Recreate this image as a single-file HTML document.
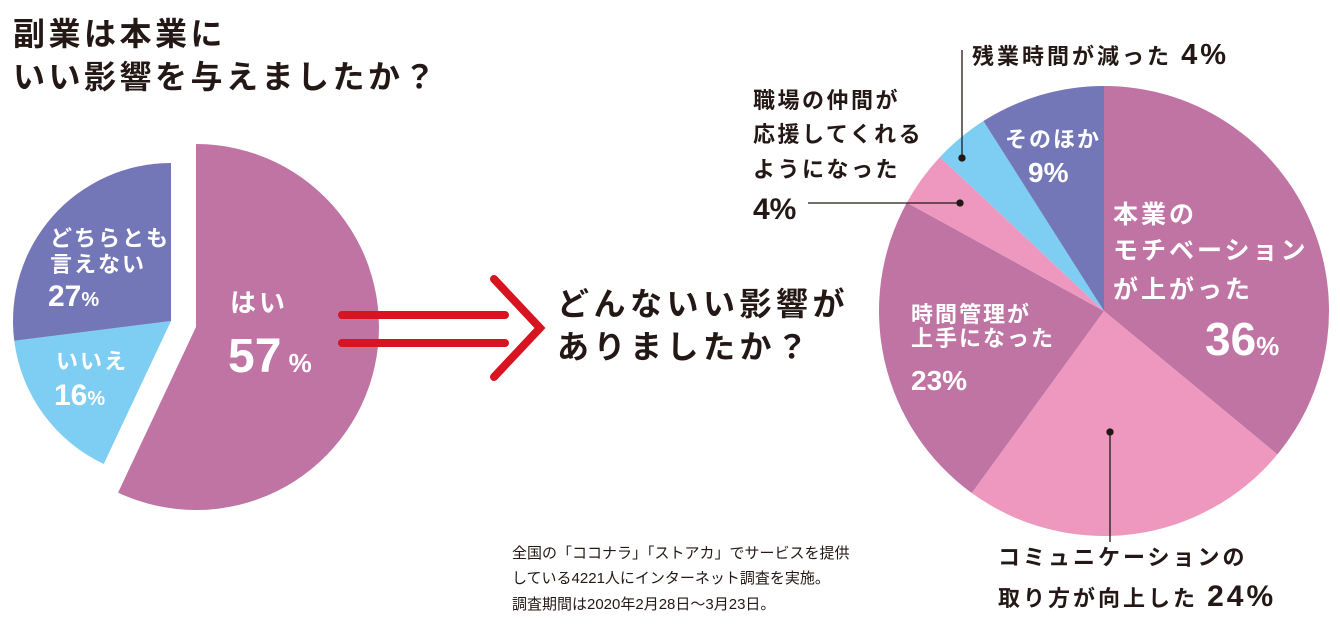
<!DOCTYPE html>
<html><head><meta charset="utf-8">
<style>
html,body{margin:0;padding:0;background:#fff;}
body{width:1340px;height:630px;overflow:hidden;position:relative;font-family:"Liberation Sans","Noto Sans CJK JP",sans-serif;}
svg text{font-family:"Liberation Sans","Noto Sans CJK JP",sans-serif;font-weight:bold;}
</style></head><body>
<svg id="chart" width="1340" height="630" viewBox="0 0 1340 630" xmlns="http://www.w3.org/2000/svg">
<g id="left"></g>
<g id="right"></g>
<g fill="#231815" font-size="32" letter-spacing="3.5">
<text x="13" y="45">副業は本業に</text>
<text x="13" y="88">いい影響を与えましたか？</text>
</g>
<g stroke="#d7141f" stroke-width="8" stroke-linecap="round" fill="none">
<line x1="342" y1="315" x2="505" y2="315"/>
<line x1="342" y1="343" x2="505" y2="343"/>
<polyline points="494,279 540,328 494,377" stroke-linejoin="miter"/>
</g>
<g fill="#231815" font-size="32" letter-spacing="4.5">
<text x="557" y="315">どんないい影響が</text>
<text x="557" y="358">ありましたか？</text>
</g>
<g fill="#fff">
<text x="50" y="246" font-size="22" letter-spacing="2">どちらとも</text>
<text x="50" y="272" font-size="22" letter-spacing="2">言えない</text>
<text x="48" y="306" font-size="30">27<tspan font-size="20">%</tspan></text>
<text x="56" y="369" font-size="22" letter-spacing="2">いいえ</text>
<text x="54" y="405" font-size="30">16<tspan font-size="20">%</tspan></text>
<text x="230" y="312" font-size="26" letter-spacing="3">はい</text>
<text x="228" y="372" font-size="48">57<tspan font-size="26"> %</tspan></text>
</g>
<g>
<g fill="#fff">
<text x="1113" y="223" font-size="25" letter-spacing="3">本業の</text>
<text x="1113" y="259" font-size="25" letter-spacing="3">モチベーション</text>
<text x="1113" y="298" font-size="25" letter-spacing="3">が上がった</text>
<text x="1205" y="355" font-size="46">36<tspan font-size="26">%</tspan></text>
<text x="911" y="322" font-size="22" letter-spacing="2">時間管理が</text>
<text x="911" y="346" font-size="22" letter-spacing="2">上手になった</text>
<text x="911" y="390" font-size="28">23%</text>
<text x="1005" y="147" font-size="22" letter-spacing="2">そのほか</text>
<text x="1028" y="182" font-size="28">9%</text>
</g>
<g fill="#231815">
<text x="972" y="64" font-size="22" letter-spacing="3">残業時間が減った <tspan font-size="29">4%</tspan></text>
<text x="753" y="108" font-size="22" letter-spacing="2.5">職場の仲間が</text>
<text x="753" y="142" font-size="22" letter-spacing="2.5">応援してくれる</text>
<text x="753" y="177" font-size="22" letter-spacing="2.5">ようになった</text>
<text x="753" y="219" font-size="30">4%</text>
<text x="998" y="565" font-size="22" letter-spacing="3">コミュニケーションの</text>
<text x="998" y="606" font-size="22" letter-spacing="3">取り方が向上した <tspan font-size="30">24%</tspan></text>
</g>
<g stroke="#231815" stroke-width="1.3" fill="#231815">
<line x1="962" y1="50" x2="962" y2="158"/><circle cx="962" cy="158" r="3"/>
<line x1="808" y1="203" x2="960" y2="203"/><circle cx="960" cy="203" r="3"/>
<line x1="1110" y1="432" x2="1110" y2="542"/><circle cx="1110" cy="432" r="3"/>
</g>
</g>
<g fill="#231815" font-size="15">
<text x="512" y="558" style="font-weight:normal">全国の「ココナラ」「ストアカ」でサービスを提供</text>
<text x="512" y="583" style="font-weight:normal">している4221人にインターネット調査を実施。</text>
<text x="512" y="609" style="font-weight:normal">調査期間は2020年2月28日〜3月23日。</text>
</g>
</svg>
<script>
const leftCategories = ["はい", "いいえ", "どちらとも言えない"];
const leftValues = [57, 16, 27];
const leftColors = ["#bf74a4", "#7ecdf2", "#7477b7"];
const rightCategories = ["本業のモチベーションが上がった", "コミュニケーションの取り方が向上した", "時間管理が上手になった", "職場の仲間が応援してくれるようになった", "残業時間が減った", "そのほか"];
const rightValues = [36, 24, 23, 4, 4, 9];
const rightColors = ["#bf74a4", "#ee98c0", "#bf74a4", "#ee98c0", "#7ecdf2", "#7477b7"];
const NS = "http://www.w3.org/2000/svg";
function pt(cx, cy, r, frac) {
  const a = frac * 2 * Math.PI;
  return [cx + r * Math.sin(a), cy - r * Math.cos(a)];
}
function slice(g, cx, cy, r, f0, f1, color, name) {
  const p0 = pt(cx, cy, r, f0), p1 = pt(cx, cy, r, f1);
  const large = (f1 - f0) > 0.5 ? 1 : 0;
  const p = document.createElementNS(NS, "path");
  p.setAttribute("d", `M${cx},${cy} L${p0[0]},${p0[1]} A${r},${r} 0 ${large} 1 ${p1[0]},${p1[1]} Z`);
  p.setAttribute("fill", color);
  
  
  g.appendChild(p);
}
(function () {
  const g = document.getElementById("left");
  const total = leftValues.reduce((a, b) => a + b, 0);
  let acc = 0;
  leftValues.forEach((v, i) => {
    const f0 = acc / total, f1 = (acc + v) / total;
    if (i === 0) slice(g, 196, 327, 183, f0, f1, leftColors[i], "slice-yes");
    else slice(g, 171, 321, 158, f0, f1, leftColors[i], "slice-" + (i === 1 ? "no" : "neither"));
    acc += v;
  });
})();
(function () {
  const g = document.getElementById("right");
  const total = rightValues.reduce((a, b) => a + b, 0);
  let acc = 0;
  rightValues.forEach((v, i) => {
    slice(g, 1104, 311, 225, acc / total, (acc + v) / total, rightColors[i], "slice-" + i);
    acc += v;
  });
})();
</script>
</body></html>
